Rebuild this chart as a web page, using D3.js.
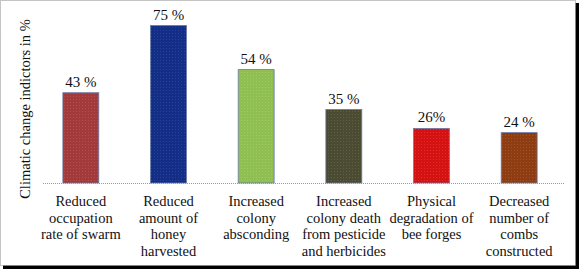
<!DOCTYPE html>
<html>
<head>
<meta charset="utf-8">
<script src="https://cdn.jsdelivr.net/npm/d3@7"></script>
<style>
  html, body { margin: 0; padding: 0; background: #fff; }
  svg { display: block; }
</style>
</head>
<body>
<svg id="chart" width="579" height="269"></svg>
<script>
var categories = [
  ['Reduced', 'occupation', 'rate of swarm'],
  ['Reduced', 'amount of', 'honey', 'harvested'],
  ['Increased', 'colony', 'absconding'],
  ['Increased', 'colony death', 'from pesticide', 'and herbicides'],
  ['Physical', 'degradation of', 'bee forges'],
  ['Decreased', 'number of', 'combs', 'constructed']
];
var values = [43, 75, 54, 35, 26, 24];
var value_labels = ['43 %', '75 %', '54 %', '35 %', '26%', '24 %'];
var bar_colors = ['#a23a3b', '#142e86', '#8fbf52', '#4b4a33', '#d41212', '#8e3c12'];
var dot_colors = ['#c0605a', '#2f50b0', '#b0d070', '#707050', '#e84040', '#b06030'];
var y_title = 'Climatic change indictors in %';

var font = "'Liberation Serif', 'Times New Roman', Times, serif";

var svg = d3.select('#chart');
var margin = {top: 15, right: 16, bottom: 86, left: 37};
var width = 579 - margin.left - margin.right;
var height = 269 - margin.top - margin.bottom;

// frame: dotted border with a dark shadow on right and bottom
svg.append('rect').attr('x', 3).attr('y', 3).attr('width', 576).attr('height', 266).attr('fill', '#000');
svg.append('rect').attr('x', 0.5).attr('y', 0.5).attr('width', 575).attr('height', 265)
   .attr('fill', '#fff').attr('stroke', '#888').attr('stroke-dasharray', '1,1');

var defs = svg.append('defs');
bar_colors.forEach((c, i) => {
  var p = defs.append('pattern').attr('id', 'pat' + i).attr('patternUnits', 'userSpaceOnUse')
    .attr('width', 3).attr('height', 3);
  p.append('rect').attr('width', 3).attr('height', 3).attr('fill', c);
  p.append('rect').attr('width', 1).attr('height', 1).attr('fill', dot_colors[i]).attr('opacity', 0.6);
});

var g = svg.append('g')
  .attr('transform', 'translate(' + margin.left + ',' + margin.top + ')')
  .attr('font-family', font)
  .attr('fill', '#111');

var x = d3.scaleBand().domain(d3.range(values.length)).range([0, width]).paddingInner(0.59).paddingOuter(0.295);
var y = d3.scaleLinear().domain([0, 80]).range([height, 0]);

g.selectAll('.bar')
  .data(values)
  .enter()
  .append('rect')
  .attr('class', 'bar')
  .attr('x', (d, i) => x(i))
  .attr('y', d => y(d))
  .attr('width', x.bandwidth())
  .attr('height', d => height - y(d))
  .attr('fill', (d, i) => 'url(#pat' + i + ')')
  .attr('stroke', '#6a7aa8')
  .attr('stroke-width', 0.8);

g.append('line')
  .attr('x1', 6).attr('x2', width + 2)
  .attr('y1', height + 0.5).attr('y2', height + 0.5)
  .attr('stroke', '#999').attr('stroke-dasharray', '1,1');

g.selectAll('.vlabel')
  .data(values)
  .enter()
  .append('text')
  .attr('class', 'vlabel')
  .attr('x', (d, i) => x(i) + x.bandwidth() / 2)
  .attr('y', d => y(d) - 6)
  .attr('text-anchor', 'middle')
  .attr('font-size', '15px')
  .text((d, i) => value_labels[i]);

var cat = g.selectAll('.cat')
  .data(categories)
  .enter()
  .append('text')
  .attr('class', 'cat')
  .attr('text-anchor', 'middle')
  .attr('font-size', '14.5px');

cat.selectAll('tspan')
  .data((d, i) => d.map(line => ({line: line, i: i})))
  .enter()
  .append('tspan')
  .attr('x', d => x(d.i) + x.bandwidth() / 2)
  .attr('y', (d, j) => height + 23 + j * 16.7)
  .text(d => d.line);

svg.append('text')
  .attr('transform', 'translate(30,' + 109 + ') rotate(-90)')
  .attr('text-anchor', 'middle')
  .attr('font-family', font)
  .attr('font-size', '14.5px')
  .attr('fill', '#111')
  .text(y_title);
</script>
</body>
</html>
